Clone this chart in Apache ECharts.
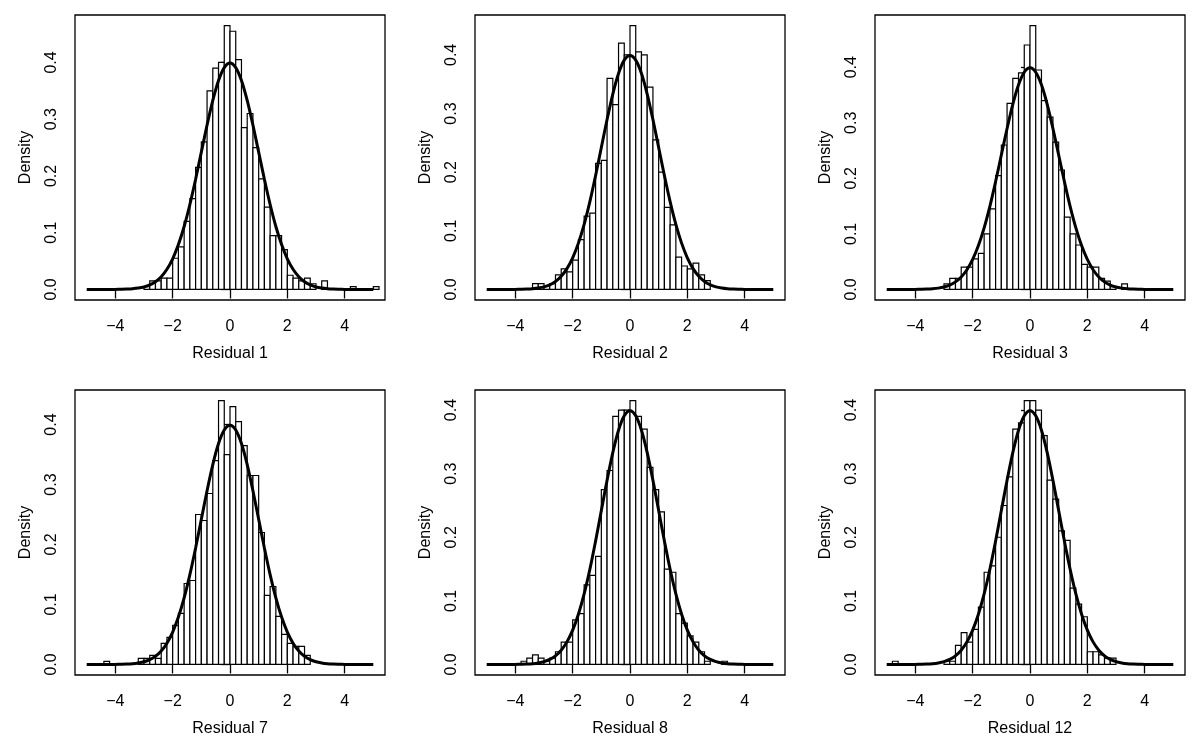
<!DOCTYPE html>
<html>
<head>
<meta charset="utf-8">
<script src="https://cdn.jsdelivr.net/npm/echarts@6/dist/echarts.min.js"></script>
<style>
html,body{margin:0;padding:0;background:#fff;}
#chart{width:1200px;height:750px;}
</style>
</head>
<body>
<div id="chart"></div>
<script>
// ---- data ----
const panelTitles = ['Residual 1', 'Residual 2', 'Residual 3', 'Residual 7', 'Residual 8', 'Residual 12'];
const BIN_WIDTH = 0.2;

// each histogram: left edge of first bin, then densities of consecutive 0.2-wide bins
const res1Start = -3.0;
const res1Density = [0.005,0.015,0.015,0.02,0.02,0.055,0.075,0.12,0.16,0.215,0.26,0.35,0.39,0.40,0.465,
  0.455,0.405,0.285,0.31,0.25,0.195,0.145,0.095,0.095,0.07,0.025,0.02,0.015,0.02,0.01,0,0.015,0,0,0,0,0.005,0,0,0,0.005];

const res2Start = -3.4;
const res2Density = [0.01,0.01,0.005,0.01,0.025,0.035,0.03,0.05,0.085,0.125,0.13,0.215,0.22,0.36,0.315,0.42,0.40,
  0.45,0.405,0.40,0.345,0.255,0.20,0.14,0.11,0.055,0.04,0.035,0.045,0.025,0.015];

const res3Start = -3.0;
const res3Density = [0.01,0.02,0.02,0.04,0.04,0.055,0.065,0.10,0.145,0.205,0.26,0.335,0.38,0.39,0.44,
  0.475,0.395,0.34,0.31,0.265,0.215,0.13,0.10,0.08,0.045,0.04,0.04,0.02,0.015,0.005,0,0.01];

const res7Start = -4.4;
const res7Density = [0.005,0,0,0,0,0,0.01,0.01,0.015,0.01,0.035,0.045,0.065,0.085,0.135,0.14,0.25,0.24,0.285,0.34,0.44,0.35,
  0.43,0.405,0.365,0.315,0.315,0.22,0.115,0.13,0.08,0.05,0.035,0.03,0.03,0.015];

const res8Start = -3.8;
const res8Density = [0.005,0.01,0.015,0.01,0.005,0.01,0.02,0.035,0.035,0.07,0.08,0.125,0.14,0.17,0.275,0.305,0.39,0.40,0.40,
  0.415,0.39,0.37,0.31,0.275,0.24,0.15,0.145,0.08,0.065,0.045,0.035,0.02,0.005,0,0,0.005];

const res12Start = -4.8;
const res12Density = [0.005,0,0,0,0,0,0,0,0,0.005,0.005,0.03,0.05,0.035,0.055,0.09,0.145,0.155,0.20,0.25,0.295,0.37,0.38,0.415,
  0.415,0.40,0.36,0.29,0.26,0.21,0.195,0.12,0.095,0.075,0.02,0.02,0.015,0.01,0.01];

// overlaid normal density curve, read at x = -5, -4.8, ..., 5
const curveX = [-5,-4.8,-4.6,-4.4,-4.2,-4,-3.8,-3.6,-3.4,-3.2,-3,-2.8,-2.6,-2.4,-2.2,-2,-1.8,-1.6,-1.4,-1.2,-1,-0.8,-0.6,-0.4,-0.2,
  0,0.2,0.4,0.6,0.8,1,1.2,1.4,1.6,1.8,2,2.2,2.4,2.6,2.8,3,3.2,3.4,3.6,3.8,4,4.2,4.4,4.6,4.8,5];
const curveY = [0,0,0,0,0,0.0001,0.0003,0.0006,0.0012,0.0024,0.0044,0.0079,0.0136,0.0224,0.0355,0.0540,0.0790,0.1109,0.1497,0.1942,0.2420,0.2897,0.3332,0.3683,0.3910,
  0.3989,0.3910,0.3683,0.3332,0.2897,0.2420,0.1942,0.1497,0.1109,0.0790,0.0540,0.0355,0.0224,0.0136,0.0079,0.0044,0.0024,0.0012,0.0006,0.0003,0.0001,0,0,0,0,0];

const xTicks = [-4, -2, 0, 2, 4];
const yTicks = [0, 0.1, 0.2, 0.3, 0.4];

// ---- build chart ----
const hists = [
  [res1Start, res1Density], [res2Start, res2Density], [res3Start, res3Density],
  [res7Start, res7Density], [res8Start, res8Density], [res12Start, res12Density]
];
const XLIM = 5.2 * 1.04;
const FONT = 'Liberation Sans, Arial, Helvetica, sans-serif';

const grids = [], xAxes = [], yAxes = [], series = [];
hists.forEach(([start, dens], i) => {
  const col = i % 3, row = Math.floor(i / 3);
  grids.push({
    left: 75 + 400 * col, top: 15 + 375 * row, width: 310, height: 285,
    show: true, borderColor: '#000', borderWidth: 1.3, backgroundColor: 'transparent'
  });
  const maxD = Math.max(...dens);
  xAxes.push({
    type: 'value', gridIndex: i, min: -XLIM, max: XLIM,
    name: panelTitles[i], nameLocation: 'middle', nameGap: 46,
    nameTextStyle: { color: '#000', fontSize: 16, fontFamily: FONT },
    axisLine: { show: false },
    splitLine: { show: false },
    axisTick: { show: true, length: 9, customValues: xTicks, lineStyle: { color: '#000', width: 1.3 } },
    axisLabel: { show: true, customValues: xTicks, margin: 19, color: '#000', fontSize: 16, fontFamily: FONT,
      formatter: v => (v < 0 ? '\u2212' : '') + Math.abs(v) }
  });
  yAxes.push({
    type: 'value', gridIndex: i, min: -0.04 * maxD, max: 1.04 * maxD,
    name: 'Density', nameLocation: 'middle', nameGap: 41,
    nameTextStyle: { color: '#000', fontSize: 16, fontFamily: FONT },
    axisLine: { show: false },
    splitLine: { show: false },
    axisTick: { show: true, length: 9, customValues: yTicks, lineStyle: { color: '#000', width: 1.3 } },
    axisLabel: { show: true, customValues: yTicks, rotate: 90, margin: 15, color: '#000', fontSize: 16, fontFamily: FONT,
      formatter: v => v.toFixed(1) }
  });
  const data = [];
  dens.forEach((d, k) => { if (d > 0) data.push([start + k * BIN_WIDTH, d]); });
  series.push({
    type: 'custom', xAxisIndex: i, yAxisIndex: i, data: data, silent: true,
    encode: { x: 0, y: 1 },
    renderItem: (params, api) => {
      const x0 = api.value(0), h = api.value(1);
      const p0 = api.coord([x0, 0]);
      const p1 = api.coord([x0 + BIN_WIDTH, h]);
      return {
        type: 'rect',
        shape: { x: p0[0], y: p1[1], width: p1[0] - p0[0], height: p0[1] - p1[1] },
        style: { fill: '#fff', stroke: '#000', lineWidth: 1.2 }
      };
    },
    z: 2
  });
  series.push({
    type: 'line', xAxisIndex: i, yAxisIndex: i, silent: true,
    data: curveX.map((x, k) => [x, curveY[k]]),
    smooth: 0.3, showSymbol: false, symbol: 'none',
    lineStyle: { color: '#000', width: 3 },
    z: 3
  });
});

const chart = echarts.init(document.getElementById('chart'), null, { renderer: 'canvas' });
chart.setOption({
  backgroundColor: '#fff',
  animation: false,
  grid: grids, xAxis: xAxes, yAxis: yAxes, series: series
});
</script>
</body>
</html>
